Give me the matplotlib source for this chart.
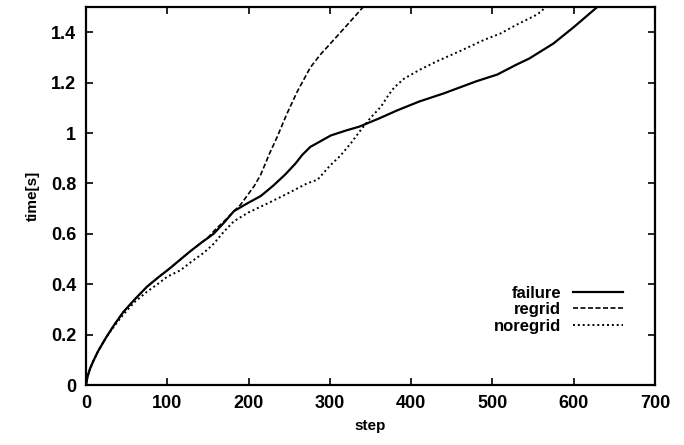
import matplotlib
matplotlib.use("Agg")
import matplotlib.pyplot as plt

plt.rcParams['font.family'] = ['Liberation Sans', 'DejaVu Sans']
plt.rcParams['font.weight'] = 'bold'

# failure (solid)
fail_step = [0, 2, 5, 9, 15, 25, 35, 46, 60, 75, 90, 102, 115, 128, 142, 157,
             170, 182, 198, 215, 230, 245, 258, 266, 276, 290, 301, 320, 336,
             360, 383, 410, 440, 480, 506, 530, 545, 560, 575, 600, 629]
fail_time = [0, 0.035, 0.065, 0.095, 0.135, 0.19, 0.24, 0.29, 0.34, 0.39, 0.43,
             0.46, 0.495, 0.53, 0.565, 0.60, 0.645, 0.69, 0.72, 0.75, 0.79,
             0.835, 0.88, 0.913, 0.945, 0.97, 0.99, 1.01, 1.025, 1.057, 1.09,
             1.125, 1.157, 1.205, 1.232, 1.272, 1.295, 1.325, 1.355, 1.42, 1.5]

# regrid (dashed)
regrid_step = [0, 2, 5, 9, 15, 25, 35, 46, 60, 75, 90, 102, 115, 128, 142, 150,
               160, 170, 182, 190, 198, 207, 215, 226, 235, 247, 260, 276, 288,
               301, 320, 341]
regrid_time = [0, 0.035, 0.065, 0.095, 0.135, 0.19, 0.24, 0.29, 0.34, 0.39,
               0.43, 0.46, 0.495, 0.53, 0.565, 0.585, 0.62, 0.65, 0.69, 0.715,
               0.75, 0.79, 0.835, 0.92, 0.983, 1.075, 1.165, 1.26, 1.31, 1.356,
               1.424, 1.5]

# noregrid (dotted)
noregrid_step = [0, 2, 5, 9, 15, 25, 35, 46, 60, 75, 90, 100, 116, 130, 145,
                 157, 170, 182, 200, 223, 245, 260, 272, 285, 300, 313, 326, 338,
                 350, 363, 372, 379, 391, 410, 432, 460, 490, 510, 530, 555, 566]
noregrid_time = [0, 0.035, 0.065, 0.095, 0.135, 0.19, 0.235, 0.28, 0.33, 0.37,
                 0.405, 0.43, 0.455, 0.49, 0.525, 0.56, 0.61, 0.65, 0.685, 0.72,
                 0.755, 0.78, 0.80, 0.815, 0.87, 0.91, 0.96, 1.012, 1.06, 1.105,
                 1.15, 1.18, 1.215, 1.25, 1.285, 1.325, 1.37, 1.395, 1.43, 1.47,
                 1.5]

fig = plt.figure(figsize=(6.84, 4.45), dpi=100)
ax = fig.add_axes([86/684, 60/445, 569/684, 378/445])

ax.plot(fail_step, fail_time, color='black', lw=1.6, label='failure')
ax.plot(regrid_step, regrid_time, color='black', lw=1.2,
        linestyle=(0, (3, 1.5)), label='regrid')
ax.plot(noregrid_step, noregrid_time, color='black', lw=1.4,
        linestyle=(0, (1, 1.5)), label='noregrid')

ax.set_xlim(0, 700)
ax.set_ylim(0, 1.5)
ax.set_xticks(range(0, 701, 100))
ax.set_yticks([0, 0.2, 0.4, 0.6, 0.8, 1, 1.2, 1.4])
ax.set_yticklabels(['0', '0.2', '0.4', '0.6', '0.8', '1', '1.2', '1.4'])
ax.tick_params(direction='in', top=True, right=True, length=5, width=1.2,
               labelsize=13, pad=7)
for s in ax.spines.values():
    s.set_linewidth(1.6)

ax.set_xlabel('step', fontsize=11, fontweight='bold', labelpad=5)
ax.set_ylabel('time[s]', fontsize=11, fontweight='bold', labelpad=8)

ax.legend(loc='lower right', bbox_to_anchor=(0.958, 0.114), frameon=False,
          markerfirst=False, handlelength=3.0, labelspacing=0.08,
          borderpad=0, handletextpad=0.7, prop={'size': 12, 'weight': 'bold'})

fig.savefig('out.png', dpi=100)
